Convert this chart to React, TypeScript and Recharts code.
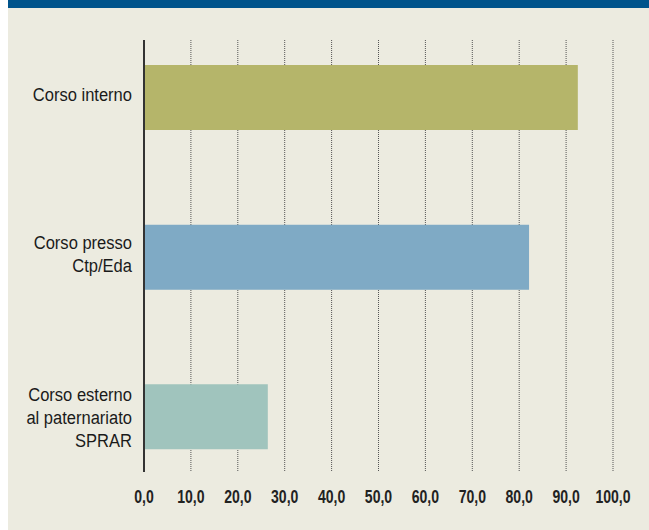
import { BarChart, Bar, XAxis, YAxis, CartesianGrid, Cell } from 'recharts';

const categories = ['Corso interno', 'Corso presso\nCtp/Eda', 'Corso esterno\nal paternariato\nSPRAR'];
const values = [92.5, 82.1, 26.4];
const barColors = ['#b5b56a', '#7faac5', '#a0c4bd'];
const xTicks = [0, 10, 20, 30, 40, 50, 60, 70, 80, 90, 100];

const data = categories.map((name, i) => ({ name, value: values[i] }));

// no narrow font installed, so squeeze Liberation Sans horizontally
const FONT = "'Liberation Sans', Arial, sans-serif";
const BG = '#ecebe0';

function CategoryTick(props: any) {
  const { x, y, payload } = props;
  const lines = String(payload.value).split('\n');
  const lh = 23.4;
  const sx = 0.87;
  const shift = lines.length >= 3 ? 0 : -4;
  // baseline of first line; cap centre sits ~0.36em above baseline
  const first = y + shift - ((lines.length - 1) * lh) / 2 + 6.9;
  return (
    <g transform={`translate(${x - 4},0) scale(${sx},1)`}>
      <text textAnchor="end" fontFamily={FONT} fontSize={19} fill="#1a1a1a">
        {lines.map((l, i) => (
          <tspan key={i} x={0} y={first + i * lh}>
            {l}
          </tspan>
        ))}
      </text>
    </g>
  );
}

function ValueTick(props: any) {
  const { x, y, payload } = props;
  const label = Number(payload.value).toFixed(1).replace('.', ',');
  return (
    <g transform={`translate(${x},${y + 12.7}) scale(0.78,1)`}>
      <text textAnchor="middle" fontFamily={FONT} fontSize={18} fontWeight={700} fill="#222">
        {label}
      </text>
    </g>
  );
}

export default function App() {
  return (
    <div
      style={{
        position: 'absolute',
        top: 0,
        left: 8,
        width: 641,
        height: 530,
        background: BG,
        borderTop: '8px solid #00538b',
        boxSizing: 'border-box',
        overflow: 'hidden',
      }}
    >
      <BarChart
        width={641}
        height={522}
        data={data}
        layout="vertical"
        margin={{ top: 32, right: 36, bottom: 0, left: 0 }}
      >
        <CartesianGrid
          horizontal={false}
          vertical
          stroke="#555"
          strokeDasharray="1 1"
        />
        <XAxis
          type="number"
          domain={[0, 100]}
          ticks={xTicks}
          interval={0}
          axisLine={false}
          tickLine={false}
          tickMargin={12}
          height={58}
          tick={<ValueTick />}
        />
        <YAxis
          type="category"
          dataKey="name"
          width={136}
          padding={{ top: -22, bottom: -25 }}
          axisLine={{ stroke: '#333', strokeWidth: 2 }}
          tickLine={false}
          tick={<CategoryTick />}
          interval={0}
        />
        <Bar dataKey="value" barSize={65} isAnimationActive={false}>
          {data.map((_, i) => (
            <Cell key={i} fill={barColors[i]} />
          ))}
        </Bar>
      </BarChart>
    </div>
  );
}
